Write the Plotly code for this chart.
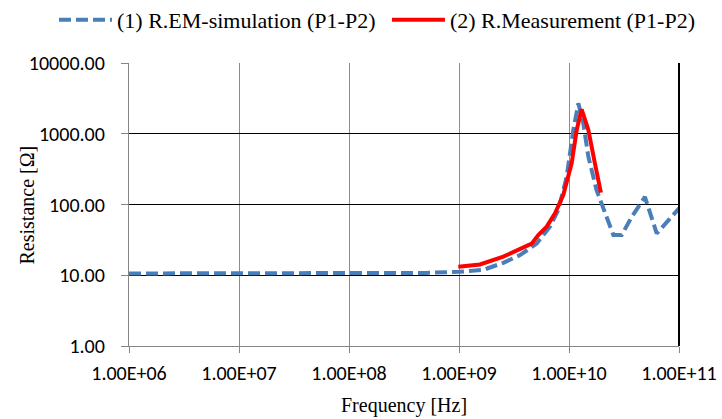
import plotly.graph_objects as go

# Resistance between ports P1-P2 versus frequency
sim_freq = [1e6, 2e6, 5e6, 1e7, 2e7, 5e7, 1e8, 2e8, 5e8, 1e9, 1.66e9, 2.53e9,
            3.59e9, 5.08e9, 6.71e9, 8.0e9, 9.53e9, 1.094e10, 1.216e10, 1.35e10,
            1.5e10, 1.78e10, 2.12e10, 2.53e10, 3.01e10, 3.72e10, 4.9e10,
            6.27e10, 1e11]
sim_res = [10.6, 10.6, 10.6, 10.6, 10.6, 10.6, 10.6, 10.7, 10.8, 11.2, 11.9, 15.0,
           19.3, 28.0, 48.6, 84.0, 247.0, 1130.0, 2690.0, 1400.0,
           474.0, 160.0, 75.0, 37.0, 37.0, 67.0, 128.0,
           39.0, 88.0]

meas_freq = [9.86e8, 1.55e9, 2.53e9, 3.59e9, 4.58e9, 5.26e9, 6.27e9, 7.46e9,
             8.87e9, 1.057e10, 1.175e10, 1.303e10, 1.5e10, 1.72e10, 1.95e10]
meas_res = [13.2, 14.2, 18.3, 24.0, 28.0, 37.0, 48.6, 75.0,
            136.0, 382.0, 1130.0, 2220.0, 1130.0, 382.0, 147.0]

x_ticks = [1e6, 1e7, 1e8, 1e9, 1e10, 1e11]
y_ticks = [1, 10, 100, 1000, 10000]

serif = "Liberation Serif, serif"
sans = "Carlito, sans-serif"

fig = go.Figure()
fig.add_trace(go.Scatter(
    x=sim_freq, y=sim_res, mode="lines",
    name="(1) R.EM-simulation (P1-P2)", legend="legend",
    line=dict(color="#4A7EBB", width=4, dash="12px,5px"),
))
fig.add_trace(go.Scatter(
    x=meas_freq, y=meas_res, mode="lines",
    name="(2) R.Measurement (P1-P2)", legend="legend2",
    line=dict(color="#FF0000", width=4),
))

fig.update_xaxes(
    type="log", range=[6, 11], automargin=False,
    tickvals=x_ticks, ticktext=["{:.2E}".format(v) for v in x_ticks],
    showgrid=True, gridcolor="#8C8C8C", gridwidth=1.3,
    showline=True, linecolor="#868686", linewidth=1.3,
    ticks="outside", ticklen=6, tickcolor="#868686", tickwidth=1.3,
    ticklabelstandoff=3,
    tickfont=dict(family=sans, size=20, color="#000000"),
    zeroline=False,
)
fig.update_yaxes(
    type="log", range=[0, 4], automargin=False,
    tickvals=y_ticks, ticktext=["{:.2f}".format(v) for v in y_ticks],
    showgrid=True, gridcolor="#000000", gridwidth=1.3,
    showline=True, linecolor="#868686", linewidth=1.3,
    ticks="outside", ticklen=7, tickcolor="#868686", tickwidth=1.3,
    ticklabelstandoff=12,
    tickfont=dict(family=sans, size=20, color="#000000"),
    zeroline=False,
)

# axis titles
title_font = dict(family=serif, size=20, color="#000000")
fig.add_annotation(
    text="Resistance [Ω]", xref="paper", yref="paper", x=-0.1855, y=0.5,
    textangle=-90, showarrow=False, xanchor="center", yanchor="middle",
    font=title_font,
)
fig.add_annotation(
    text="Frequency [Hz]", xref="paper", yref="paper", x=0.5, y=-0.212,
    showarrow=False, xanchor="center", yanchor="middle",
    font=title_font,
)

# black frame on the right edge of the plot area
fig.add_shape(type="line", xref="paper", yref="paper", x0=1, x1=1, y0=0, y1=1,
              line=dict(color="#000000", width=2), layer="above")

legend_style = dict(
    orientation="h", y=1.152, xanchor="left", yanchor="middle",
    font=dict(family=serif, size=22, color="#000000"),
    itemwidth=53, bgcolor="rgba(0,0,0,0)",
)

fig.update_layout(
    width=722, height=419,
    margin=dict(l=129, r=43, t=63, b=73, autoexpand=False),
    paper_bgcolor="white", plot_bgcolor="white",
    font=dict(family=serif, size=20, color="#000000"),
    showlegend=True,
    legend=dict(x=-0.1364, **legend_style),
    legend2=dict(x=0.469, **legend_style),
)

fig.write_html("out.html")
